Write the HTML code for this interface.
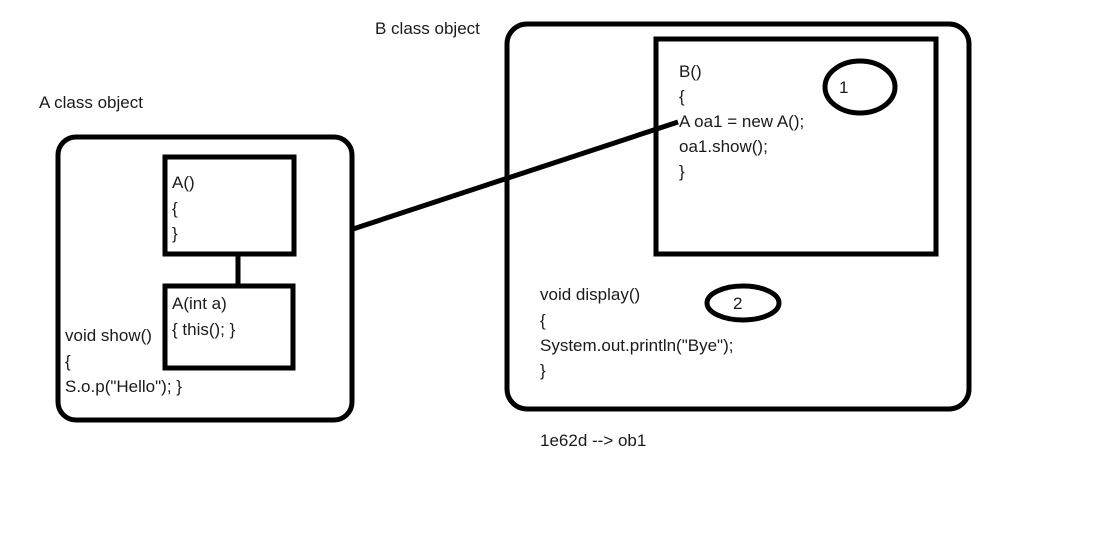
<!DOCTYPE html>
<html><head><style>
html,body{margin:0;padding:0;background:#fff;width:1119px;height:557px;overflow:hidden}
text{font-family:"Liberation Sans",sans-serif;font-size:17px;fill:#1a1a1a}
</style></head><body>
<svg width="1119" height="557" viewBox="0 0 1119 557">
<g fill="none" stroke="#000" stroke-width="5">
<rect x="58" y="137" width="294" height="283" rx="18"/>
<rect x="165" y="157" width="129" height="97"/>
<line x1="238" y1="254" x2="238" y2="285"/>
<rect x="165" y="286" width="128" height="82"/>
<line x1="353" y1="229" x2="678" y2="122"/>
<rect x="507" y="24" width="462" height="385" rx="20"/>
<rect x="656" y="39" width="280" height="215"/>
<ellipse cx="860" cy="87" rx="35" ry="26"/>
<ellipse cx="743" cy="303" rx="36" ry="17"/>
</g>
<text x="375" y="34">B class object</text>
<text x="39" y="108">A class object</text>
<text x="172" y="188">A()</text>
<text x="172" y="214">{</text>
<text x="172" y="239">}</text>
<text x="172" y="309">A(int a)</text>
<text x="172" y="335">{ this(); }</text>
<text x="65" y="341">void show()</text>
<text x="65" y="367">{</text>
<text x="65" y="392">S.o.p("Hello"); }</text>
<text x="679" y="77">B()</text>
<text x="679" y="102">{</text>
<text x="679" y="127">A oa1 = new A();</text>
<text x="679" y="152">oa1.show();</text>
<text x="679" y="177">}</text>
<text x="839" y="93">1</text>
<text x="733" y="309">2</text>
<text x="540" y="300">void display()</text>
<text x="540" y="326">{</text>
<text x="540" y="351">System.out.println("Bye");</text>
<text x="540" y="376">}</text>
<text x="540" y="446">1e62d --&gt; ob1</text>
</svg>
</body></html>
